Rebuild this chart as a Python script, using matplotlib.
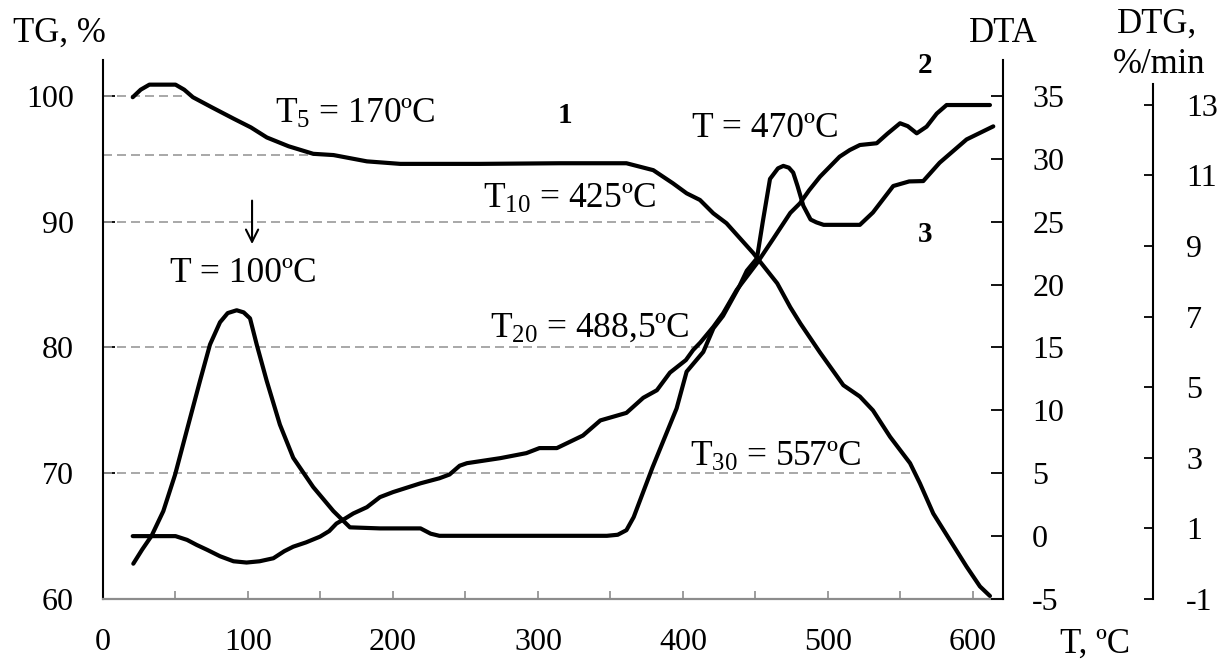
import matplotlib
matplotlib.use("Agg")
import matplotlib.pyplot as plt
from matplotlib.ticker import MultipleLocator

plt.rcParams['font.family'] = ['Liberation Serif', 'DejaVu Serif']
plt.rcParams['mathtext.fontset'] = 'custom'
plt.rcParams['mathtext.rm'] = 'Liberation Serif'
plt.rcParams['mathtext.default'] = 'rm'
plt.rcParams['axes.unicode_minus'] = False

# curve 1: TG, %
tg_t = [20.5, 26, 32, 50, 56, 62, 75, 90, 102, 113, 128, 145, 159, 182, 205, 260, 315, 361,
        379.5, 393, 402.5, 411.7, 420.9, 430, 448.5, 465, 474, 481, 494.5, 510.6, 522, 531,
        542.8, 556.6, 563.4, 572.6, 584, 595.6, 604.8, 611.7]
tg = [99.9, 100.5, 100.9, 100.9, 100.5, 99.9, 99.1, 98.2, 97.5, 96.7, 96.0, 95.4, 95.3, 94.8,
      94.6, 94.6, 94.65, 94.65, 94.1, 93.06, 92.26, 91.73, 90.67, 89.88, 87.5, 85.1, 83.2, 81.9,
      79.6, 77.0, 76.1, 75.0, 72.9, 70.8, 69.2, 66.8, 64.7, 62.57, 61.0, 60.24]

# curve 2: DTA
dta_t = [20.5, 50, 58, 64.6, 72, 80.7, 90, 99, 108, 117.5, 125, 131.2, 140, 149.7, 156, 161,
         167, 172.6, 182, 191, 200, 219, 232, 239, 246, 251, 274, 292, 301, 313, 331, 343, 361,
         372.6, 382, 391, 402, 407, 412, 421, 427.6, 437, 451, 462, 474, 480.7, 487, 494.5, 508,
         515, 522, 533.6, 541, 549.7, 555, 561.2, 568, 575, 581.8, 611.7]
dta = [0.0, 0.0, -0.3, -0.7, -1.1, -1.6, -2.0, -2.1, -2.0, -1.76, -1.2, -0.84, -0.5, -0.04, 0.4,
       1.0, 1.4, 1.8, 2.3, 3.1, 3.5, 4.2, 4.6, 4.9, 5.6, 5.8, 6.2, 6.6, 7.0, 7.0, 8.0, 9.2, 9.8,
       11.0, 11.6, 13.0, 14.0, 14.8, 15.4, 16.65, 17.7, 19.57, 21.7, 23.6, 25.7, 26.47, 27.5,
       28.58, 30.17, 30.7, 31.1, 31.24, 32.0, 32.83, 32.6, 32.03, 32.56, 33.6, 34.28, 34.28]

# curve 3: DTG, %/min
dtg_t = [20.9, 27, 33.5, 41.6, 49.7, 57.7, 66.9, 73.8, 80.7, 86, 92.2, 97, 101.4, 106, 112.9,
         122, 131.2, 145, 158.9, 170.3, 191, 219, 226, 232, 347.5, 355, 361, 366, 379, 395.6,
         402.5, 414, 421, 427.6, 439, 444, 451, 455, 460, 465.5, 469.2, 473, 476, 479, 483, 488,
         492, 497, 522, 531, 545, 556, 565.7, 577, 595.6, 614]
dtg = [0.0, 0.4, 0.79, 1.49, 2.52, 3.76, 5.18, 6.21, 6.84, 7.1, 7.18, 7.12, 6.95, 6.21, 5.18,
       3.94, 3.0, 2.17, 1.49, 1.03, 1.0, 1.0, 0.85, 0.79, 0.79, 0.82, 0.95, 1.32, 2.73, 4.4,
       5.44, 6.0, 6.67, 7.02, 7.87, 8.3, 8.65, 9.68, 10.9, 11.2, 11.27, 11.22, 11.08, 10.7, 10.14,
       9.75, 9.67, 9.6, 9.6, 9.95, 10.7, 10.83, 10.84, 11.36, 12.02, 12.39]

# mass-loss levels and where their guide lines end
mark_levels = [100, 95.3, 90, 80, 70]
mark_temps = [58, 150, 425, 488.5, 557]

fig = plt.figure(figsize=(12.27, 6.6), dpi=100)
ax = fig.add_axes([103 / 1227, 61 / 660, 900 / 1227, 539 / 660])

line_kw = dict(color='black', lw=3, solid_capstyle='round', solid_joinstyle='round')

ax.hlines(mark_levels, 0, mark_temps, colors='#9a9a9a', linestyles=(0, (5.4, 3)), lw=1.2)
ax.plot(tg_t, tg, **line_kw)

ax.set_xlim(0, 620.7)
ax.set_ylim(60, 102.86)
ax.xaxis.set_major_locator(MultipleLocator(100))
ax.xaxis.set_minor_locator(MultipleLocator(50))
ax.set_yticks([60, 70, 80, 90, 100])
ax.tick_params(axis='x', which='both', direction='in', length=6, width=1.2, color='#8c8c8c',
               labelsize=23, pad=21)
ax.tick_params(axis='y', direction='in', length=8.6, width=1.3, labelsize=23, pad=21)
for s in ['top', 'right']:
    ax.spines[s].set_visible(False)
ax.spines['bottom'].set_color('#8c8c8c')
ax.spines['bottom'].set_linewidth(1.6)
ax.spines['left'].set_linewidth(1.5)

# DTA axis
ax2 = ax.twinx()
ax2.plot(dta_t, dta, **line_kw)
ax2.set_ylim(-5, 37.86)
ax2.set_yticks(range(-5, 36, 5))
ax2.tick_params(axis='y', direction='in', length=8.6, width=1.3, labelsize=23, pad=21)
for s in ['top', 'left', 'bottom']:
    ax2.spines[s].set_visible(False)
ax2.spines['right'].set_linewidth(1.5)

# DTG axis
ax3 = ax.twinx()
ax3.plot(dtg_t, dtg, **line_kw)
ax3.set_ylim(-0.915, 14.27)
ax3.set_yticks(range(-1, 14, 2))
ax3.spines['right'].set_position(('axes', 1050 / 900))
ax3.spines['right'].set_bounds(-1, 13.6)
ax3.spines['right'].set_linewidth(1.5)
for s in ['top', 'left', 'bottom']:
    ax3.spines[s].set_visible(False)
ax3.tick_params(axis='y', direction='in', length=6.5, width=1.3, labelsize=23, pad=24)

fs = 25.5
ax.text(118.6, 97.85, 'T$_5$ = 170ºC', fontsize=fs)
ax.text(406, 96.74, 'T = 470ºC', fontsize=fs)
ax.text(262, 91.09, 'T$_{10}$ = 425ºC', fontsize=fs)
ax.text(267, 80.83, 'T$_{20}$ = 488,5ºC', fontsize=fs)
ax.text(405, 70.58, 'T$_{30}$ = 557ºC', fontsize=fs)
ax.text(46.2, 85.2, 'T = 100ºC', fontsize=fs)
ax.annotate('', xy=(102.8, 88.0), xytext=(102.8, 91.9),
            arrowprops=dict(arrowstyle='->', color='black', lw=1.5, mutation_scale=22))
ax.text(318.6, 97.85, '1', fontsize=21, fontweight='bold', ha='center')
ax.text(567, 101.83, '2', fontsize=21, fontweight='bold', ha='center', clip_on=False)
ax.text(567, 88.4, '3', fontsize=21, fontweight='bold', ha='center')

fig.text(13 / 1227, 1 - 42 / 660, 'TG, %', fontsize=25)
fig.text(1003 / 1227, 1 - 42 / 660, 'DTA', fontsize=25, ha='center')
fig.text(1157 / 1227, 1 - 33 / 660, 'DTG,', fontsize=25, ha='center')
fig.text(1159 / 1227, 1 - 73 / 660, '%/min', fontsize=25, ha='center')
fig.text(1060 / 1227, 1 - 653 / 660, 'T, ºC', fontsize=25)

fig.savefig('out.png', dpi=100)
